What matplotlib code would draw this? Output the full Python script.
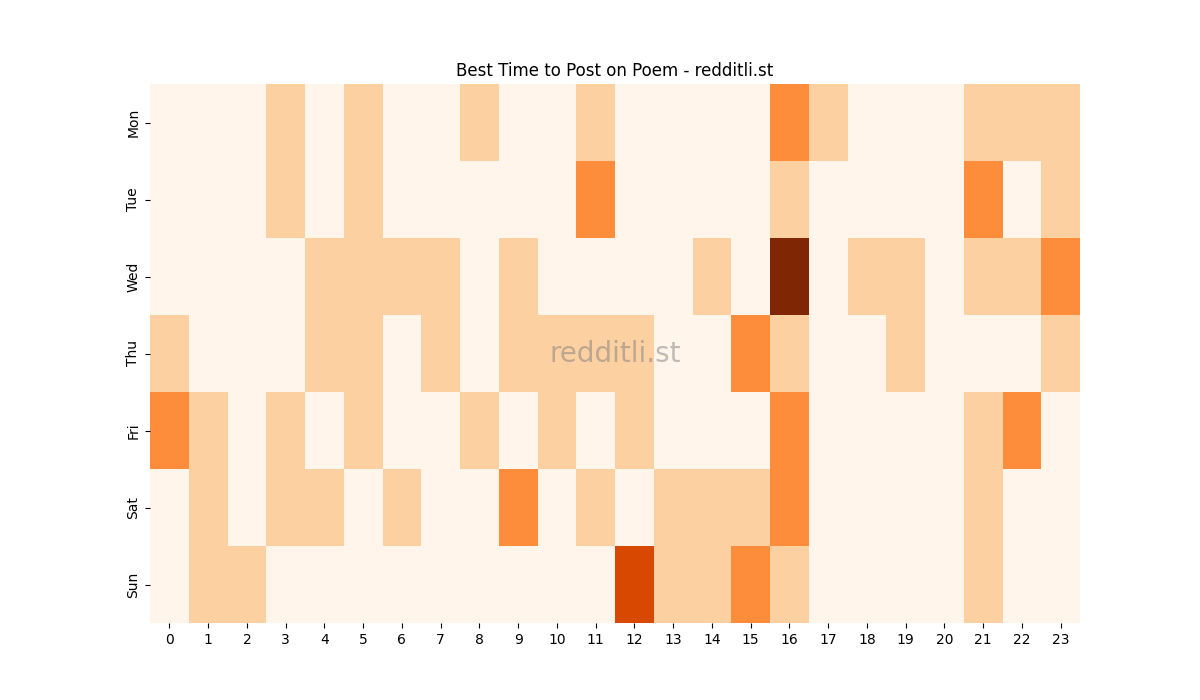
import matplotlib
matplotlib.use("Agg")
import matplotlib.pyplot as plt
import seaborn as sns
import numpy as np
import pandas as pd

days = ["Mon", "Tue", "Wed", "Thu", "Fri", "Sat", "Sun"]
hours = list(range(24))

mon = [0,0,0,1,0,1,0,0,1,0,0,1,0,0,0,0,2,1,0,0,0,1,1,1]
tue = [0,0,0,1,0,1,0,0,0,0,0,2,0,0,0,0,1,0,0,0,0,2,0,1]
wed = [0,0,0,0,1,1,1,1,0,1,0,0,0,0,1,0,4,0,1,1,0,1,1,2]
thu = [1,0,0,0,1,1,0,1,0,1,1,1,1,0,0,2,1,0,0,1,0,0,0,1]
fri = [2,1,0,1,0,1,0,0,1,0,1,0,1,0,0,0,2,0,0,0,0,1,2,0]
sat = [0,1,0,1,1,0,1,0,0,2,0,1,0,1,1,1,2,0,0,0,0,1,0,0]
sun = [0,1,1,0,0,0,0,0,0,0,0,0,3,1,1,2,1,0,0,0,0,1,0,0]

df = pd.DataFrame([mon, tue, wed, thu, fri, sat, sun], index=days, columns=hours)

fig = plt.figure(figsize=(12, 7), dpi=100)
ax = fig.add_axes([0.125, 0.11, 0.775, 0.77])
sns.heatmap(df, cmap="Oranges", vmin=0, vmax=4, cbar=False, ax=ax)
ax.set_title("Best Time to Post on Poem - redditli.st", fontsize=12)
ax.text(0.5, 0.5, "redditli.st", transform=ax.transAxes, ha="center", va="center",
        fontsize=20, color="grey", alpha=0.5)
ax.tick_params(axis="x", rotation=0)
ax.tick_params(axis="y", rotation=90)
fig.savefig("out.png", dpi=100)
